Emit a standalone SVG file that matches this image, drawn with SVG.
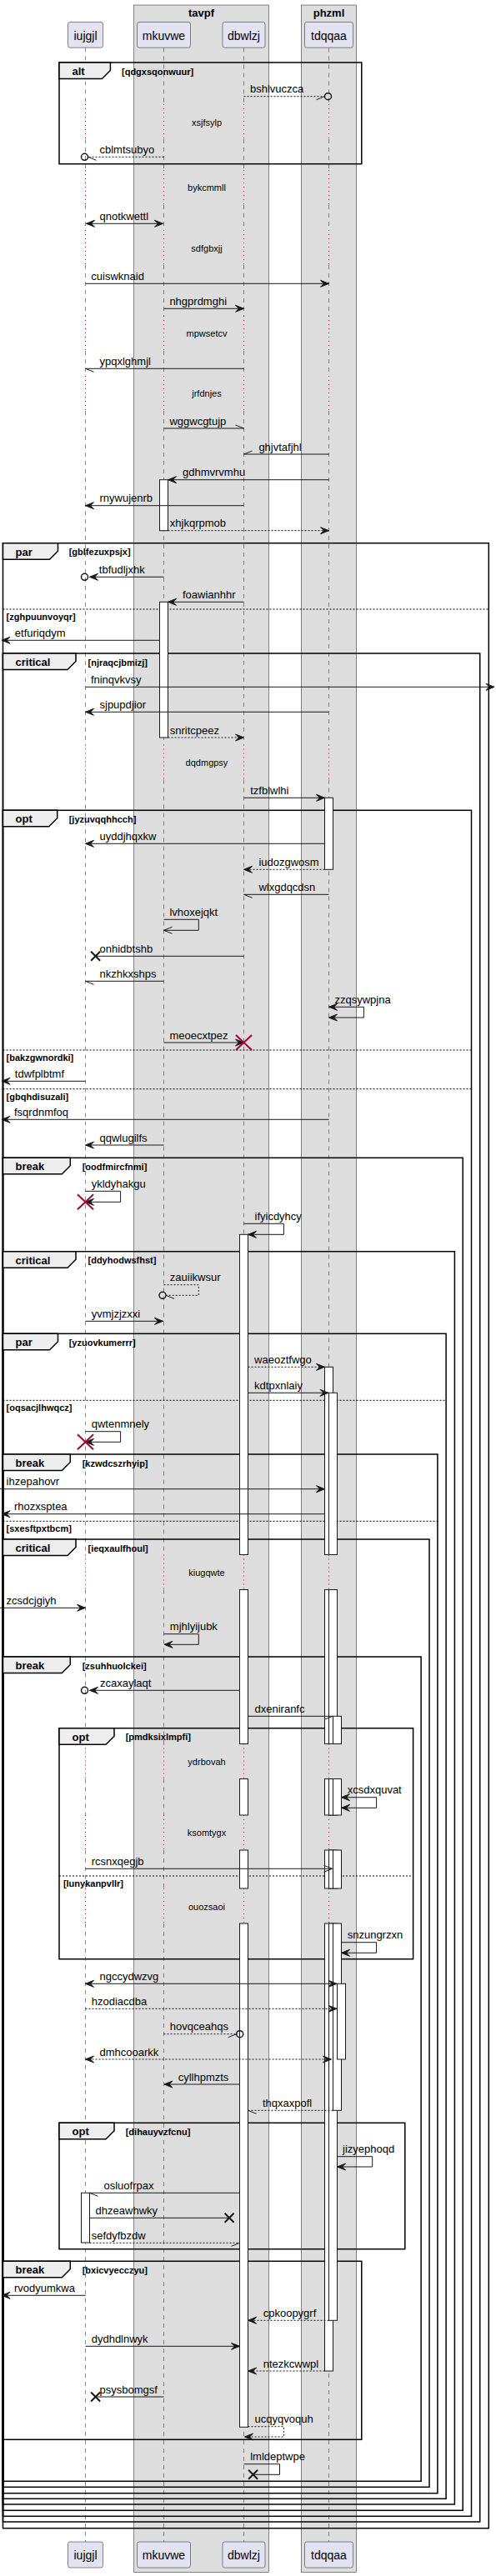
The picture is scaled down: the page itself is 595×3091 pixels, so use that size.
<svg xmlns="http://www.w3.org/2000/svg" width="595" height="3091" viewBox="0 0 595 3091">
<style>
text{font-family:"Liberation Sans",Arial,sans-serif;fill:#000}
.l{font-size:13px}
.k{font-size:13px;font-weight:bold}
.g{font-size:11px;font-weight:bold}
.dt{font-size:11px;text-anchor:middle}
.p{font-size:14px;text-anchor:middle}
.bt{font-size:13px;font-weight:bold;text-anchor:middle}
.grp{fill:#DDDDDD;stroke:#181818;stroke-width:0.5}
.part{fill:#E2E2F0;stroke:#181818;stroke-width:0.5}
.ll{fill:none;stroke:#181818;stroke-width:0.5;stroke-dasharray:5,5}
.dl{fill:none;stroke:#A80036;stroke-width:1;stroke-dasharray:1,4}
.frame{fill:none;stroke:#000;stroke-width:1.5}
.tab{fill:#EEEEEE;stroke:#000;stroke-width:1.5}
.sep{stroke:#000;stroke-width:1;stroke-dasharray:2,2}
.act{fill:#fff;stroke:#181818;stroke-width:1}
.m{fill:none;stroke:#181818;stroke-width:1}
.d{stroke-dasharray:2,2}
.c{fill:none;stroke:#181818;stroke-width:1.5}
.rx{stroke:#A80036;stroke-width:2}
.bx{stroke:#181818;stroke-width:2}
</style>
<defs>
<marker id="f" viewBox="-1 -1 12 10" refX="10" refY="4" markerWidth="12" markerHeight="10" markerUnits="userSpaceOnUse" orient="auto-start-reverse"><path d="M0,0 L10,4 L0,8 L4,4 Z" fill="#181818" stroke="#181818" stroke-width="1"/></marker>
<marker id="hA" viewBox="-1 -1 12 10" refX="10" refY="4" markerWidth="12" markerHeight="10" markerUnits="userSpaceOnUse" orient="auto"><path d="M0,0 L10,4" fill="none" stroke="#181818" stroke-width="1"/></marker>
<marker id="hB" viewBox="-1 -1 12 10" refX="10" refY="4" markerWidth="12" markerHeight="10" markerUnits="userSpaceOnUse" orient="auto"><path d="M0,8 L10,4" fill="none" stroke="#181818" stroke-width="1"/></marker>
<marker id="o" viewBox="-1 -1 12 10" refX="10" refY="4" markerWidth="12" markerHeight="10" markerUnits="userSpaceOnUse" orient="auto"><path d="M0,0 L10,4 L0,8" fill="none" stroke="#181818" stroke-width="1"/></marker>
</defs>
<rect x="0" y="0" width="595" height="3091" fill="#fff"/>

<g id="boxes">
<rect class="grp" x="160.5" y="6" width="162" height="3080.7"/>
<text class="bt" x="241.5" y="19.5">tavpf</text>
<rect class="grp" x="361.3" y="6" width="66.4" height="3080.7"/>
<text class="bt" x="394.5" y="19.5">phzml</text>
</g>

<g id="lifelines">
<path class="ll" d="M102.5,57.5V125M102.5,167V204M102.5,246V276M102.5,318V379M102.5,421V451M102.5,493V893.5M102.5,935.5V1865.5M102.5,1907.5V2092.5M102.5,2134.5V2178M102.5,2220V2266M102.5,2308V3050"/>
<path class="ll" d="M196.5,57.5V125M196.5,167V204M196.5,246V276M196.5,318V379M196.5,421V451M196.5,493V893.5M196.5,935.5V1865.5M196.5,1907.5V2092.5M196.5,2134.5V2178M196.5,2220V2266M196.5,2308V3050"/>
<path class="ll" d="M292.5,57.5V125M292.5,167V204M292.5,246V276M292.5,318V379M292.5,421V451M292.5,493V893.5M292.5,935.5V1865.5M292.5,1907.5V2092.5M292.5,2134.5V2178M292.5,2220V2266M292.5,2308V3050"/>
<path class="ll" d="M394.5,57.5V125M394.5,167V204M394.5,246V276M394.5,318V379M394.5,421V451M394.5,493V893.5M394.5,935.5V1865.5M394.5,1907.5V2092.5M394.5,2134.5V2178M394.5,2220V2266M394.5,2308V3050"/>
<path class="dl" d="M102.5,125V167M102.5,204V246M102.5,276V318M102.5,379V421M102.5,451V493M102.5,893.5V935.5M102.5,1865.5V1907.5M102.5,2092.5V2134.5M102.5,2178V2220M102.5,2266V2308"/>
<path class="dl" d="M196.5,125V167M196.5,204V246M196.5,276V318M196.5,379V421M196.5,451V493M196.5,893.5V935.5M196.5,1865.5V1907.5M196.5,2092.5V2134.5M196.5,2178V2220M196.5,2266V2308"/>
<path class="dl" d="M292.5,125V167M292.5,204V246M292.5,276V318M292.5,379V421M292.5,451V493M292.5,893.5V935.5M292.5,1865.5V1907.5M292.5,2092.5V2134.5M292.5,2178V2220M292.5,2266V2308"/>
<path class="dl" d="M394.5,125V167M394.5,204V246M394.5,276V318M394.5,379V421M394.5,451V493M394.5,893.5V935.5M394.5,1865.5V1907.5M394.5,2092.5V2134.5M394.5,2178V2220M394.5,2266V2308"/>
<text class="dt" x="248" y="150.5">xsjfsylp</text>
<text class="dt" x="248" y="229">bykcmmll</text>
<text class="dt" x="248" y="301.5">sdfgbxjj</text>
<text class="dt" x="248" y="404">mpwsetcv</text>
<text class="dt" x="248" y="476">jrfdnjes</text>
<text class="dt" x="248" y="919">dqdmgpsy</text>
<text class="dt" x="248" y="1891">kiugqwte</text>
<text class="dt" x="248" y="2118">ydrbovah</text>
<text class="dt" x="248" y="2203">ksomtygx</text>
<text class="dt" x="248" y="2291.5">ouozsaoi</text>
</g>

<g id="participants">
<g id="p-iujgjl"><rect class="part" x="81.5" y="26.5" width="42" height="30.7" rx="2.5"/><text class="p" x="102.5" y="47.5">iujgjl</text>
<rect class="part" x="81.5" y="3050" width="42" height="31" rx="2.5"/><text class="p" x="102.5" y="3070.5">iujgjl</text></g>
<g id="p-mkuvwe"><rect class="part" x="164.5" y="26.5" width="64" height="30.7" rx="2.5"/><text class="p" x="196.5" y="47.5">mkuvwe</text>
<rect class="part" x="164.5" y="3050" width="64" height="31" rx="2.5"/><text class="p" x="196.5" y="3070.5">mkuvwe</text></g>
<g id="p-dbwlzj"><rect class="part" x="267" y="26.5" width="51" height="30.7" rx="2.5"/><text class="p" x="292.5" y="47.5">dbwlzj</text>
<rect class="part" x="267" y="3050" width="51" height="31" rx="2.5"/><text class="p" x="292.5" y="3070.5">dbwlzj</text></g>
<g id="p-tdqqaa"><rect class="part" x="365.5" y="26.5" width="58" height="30.7" rx="2.5"/><text class="p" x="394.5" y="47.5">tdqqaa</text>
<rect class="part" x="365.5" y="3050" width="58" height="31" rx="2.5"/><text class="p" x="394.5" y="3070.5">tdqqaa</text></g>
</g>

<g id="frames">
<rect class="frame" x="71" y="75" width="362.8" height="121.7"/>
<path class="tab" d="M71,75H132.4V84.5L122.4,94.5H71Z"/>
<text class="k" x="86.5" y="90">alt</text><text class="g" x="146" y="89.5">[qdgxsqonwuur]</text>

<rect class="frame" x="3.5" y="651.7" width="582.8" height="2382"/>
<path class="tab" d="M3.5,651.7H69.5V661.2L59.5,671.2H3.5Z"/>
<text class="k" x="18.5" y="666.7">par</text><text class="g" x="82.7" y="666.2">[gblfezuxpsjx]</text>
<line class="sep" x1="3.5" y1="731" x2="586.3" y2="731"/><text class="g" x="7.6" y="744">[zghpuunvoyqr]</text>

<rect class="frame" x="3.5" y="784" width="572.2" height="2242"/>
<path class="tab" d="M3.5,784H91V793.5L81,803.5H3.5Z"/>
<text class="k" x="18.5" y="799">critical</text><text class="g" x="105.5" y="798.5">[njraqcjbmizj]</text>

<rect class="frame" x="3.5" y="972.3" width="562" height="2047"/>
<path class="tab" d="M3.5,972.3H68.7V981.8L58.7,991.8H3.5Z"/>
<text class="k" x="18.5" y="987.3">opt</text><text class="g" x="82.7" y="986.8">[jyzuvqqhhcch]</text>
<line class="sep" x1="3.5" y1="1260" x2="565.5" y2="1260"/><text class="g" x="7.6" y="1273">[bakzgwnordki]</text>
<line class="sep" x1="3.5" y1="1306.7" x2="565.5" y2="1306.7"/><text class="g" x="7.6" y="1319.7">[gbqhdisuzali]</text>

<rect class="frame" x="3.5" y="1389.3" width="551.7" height="1623"/>
<path class="tab" d="M3.5,1389.3H84.3V1398.8L74.3,1408.8H3.5Z"/>
<text class="k" x="18.5" y="1404.3">break</text><text class="g" x="98.7" y="1403.8">[oodfmircfnmi]</text>

<rect class="frame" x="3.5" y="1501.7" width="541.9" height="1503.3"/>
<path class="tab" d="M3.5,1501.7H91V1511.2L81,1521.2H3.5Z"/>
<text class="k" x="18.5" y="1516.7">critical</text><text class="g" x="105.5" y="1516.2">[ddyhodwsfhst]</text>

<rect class="frame" x="3.5" y="1600.3" width="531.6" height="1398"/>
<path class="tab" d="M3.5,1600.3H69.5V1609.8L59.5,1619.8H3.5Z"/>
<text class="k" x="18.5" y="1615.3">par</text><text class="g" x="82.7" y="1614.8">[yzuovkumerrr]</text>
<line class="sep" x1="3.5" y1="1680.3" x2="535.1" y2="1680.3"/><text class="g" x="7.6" y="1693.3">[oqsacjlhwqcz]</text>

<rect class="frame" x="3.5" y="1745" width="521.4" height="1246.7"/>
<path class="tab" d="M3.5,1745H84.3V1754.5L74.3,1764.5H3.5Z"/>
<text class="k" x="18.5" y="1760">break</text><text class="g" x="98.7" y="1759.5">[kzwdcszrhyip]</text>
<line class="sep" x1="3.5" y1="1825.3" x2="524.9" y2="1825.3"/><text class="g" x="7.6" y="1838.3">[sxesftpxtbcm]</text>

<rect class="frame" x="3.5" y="1847" width="511.5" height="1137.3"/>
<path class="tab" d="M3.5,1847H91V1856.5L81,1866.5H3.5Z"/>
<text class="k" x="18.5" y="1862">critical</text><text class="g" x="105.5" y="1861.5">[ieqxaulfhoul]</text>

<rect class="frame" x="3.5" y="1988" width="501.6" height="989.3"/>
<path class="tab" d="M3.5,1988H84.3V1997.5L74.3,2007.5H3.5Z"/>
<text class="k" x="18.5" y="2003">break</text><text class="g" x="98.7" y="2002.5">[zsuhhuolckei]</text>

<rect class="frame" x="71" y="2073.7" width="424.6" height="277"/>
<path class="tab" d="M71,2073.7H137V2083.2L127,2093.2H71Z"/>
<text class="k" x="86.5" y="2088.7">opt</text><text class="g" x="150.7" y="2088.2">[pmdksixlmpfi]</text>
<line class="sep" x1="71" y1="2251" x2="495.6" y2="2251"/><text class="g" x="75.9" y="2264">[lunykanpvllr]</text>

<rect class="frame" x="71" y="2547.3" width="414.8" height="151.4"/>
<path class="tab" d="M71,2547.3H137V2556.8L127,2566.8H71Z"/>
<text class="k" x="86.5" y="2562.3">opt</text><text class="g" x="150.7" y="2561.8">[dihauyvzfcnu]</text>

<rect class="frame" x="3.5" y="2713.3" width="430.3" height="214"/>
<path class="tab" d="M3.5,2713.3H84.3V2722.8L74.3,2732.8H3.5Z"/>
<text class="k" x="18.5" y="2728.3">break</text><text class="g" x="98.7" y="2727.8">[bxicvyecczyu]</text>
</g>

<g id="activations">
<rect class="act" x="191.5" y="575.7" width="10" height="61"/>
<rect class="act" x="191.5" y="722.3" width="10" height="162.7"/>
<rect class="act" x="389.5" y="957.3" width="10" height="86"/>
<rect class="act" x="287.5" y="1481.3" width="10" height="384.2"/>
<rect class="act" x="287.5" y="1907.5" width="10" height="185"/>
<rect class="act" x="287.5" y="2134.5" width="10" height="43.5"/>
<rect class="act" x="287.5" y="2220" width="10" height="46"/>
<rect class="act" x="287.5" y="2308" width="10" height="604.3"/>
<rect class="act" x="389.5" y="1640.3" width="10" height="225.2"/>
<rect class="act" x="389.5" y="1907.5" width="10" height="185"/>
<rect class="act" x="389.5" y="2134.5" width="10" height="43.5"/>
<rect class="act" x="389.5" y="2220" width="10" height="46"/>
<rect class="act" x="389.5" y="2308" width="10" height="537"/>
<rect class="act" x="394.5" y="1671.3" width="10" height="194.2"/>
<rect class="act" x="394.5" y="1907.5" width="10" height="185"/>
<rect class="act" x="394.5" y="2134.5" width="10" height="43.5"/>
<rect class="act" x="394.5" y="2220" width="10" height="46"/>
<rect class="act" x="394.5" y="2308" width="10" height="476.3"/>
<rect class="act" x="399.5" y="2059.3" width="10" height="33.2"/>
<rect class="act" x="399.5" y="2134.5" width="10" height="43.5"/>
<rect class="act" x="399.5" y="2220" width="10" height="46"/>
<rect class="act" x="399.5" y="2308" width="10" height="224.3"/>
<rect class="act" x="404.5" y="2380.3" width="10" height="90.7"/>
<rect class="act" x="97.5" y="2631.3" width="10" height="59.7"/>
</g>

<g id="connectors">
<line class="m d" x1="292.5" y1="115.7" x2="389.5" y2="115.7" marker-end="url(#hB)"/><circle class="c" cx="393.5" cy="115.7" r="4"/>
<line class="m d" x1="196.5" y1="188.3" x2="105.5" y2="188.3" marker-end="url(#hA)"/><circle class="c" cx="101.5" cy="188.3" r="4"/>
<line class="m" x1="103.5" y1="268.3" x2="195.5" y2="268.3" marker-start="url(#f)" marker-end="url(#f)"/>
<line class="m" x1="102.5" y1="340.3" x2="394.5" y2="340.3" marker-end="url(#f)"/>
<line class="m" x1="196.5" y1="370.3" x2="292.5" y2="370.3" marker-end="url(#f)"/>
<line class="m" x1="292.5" y1="442.3" x2="102.5" y2="442.3" marker-end="url(#hA)"/>
<line class="m" x1="196.5" y1="514" x2="292.5" y2="514" marker-end="url(#hA)"/>
<line class="m" x1="394.5" y1="545" x2="292.5" y2="545" marker-end="url(#hB)"/>
<line class="m" x1="394.5" y1="575.7" x2="201.5" y2="575.7" marker-end="url(#f)"/>
<line class="m" x1="292.5" y1="606.7" x2="102.5" y2="606.7" marker-end="url(#f)"/>
<line class="m d" x1="201.5" y1="636.7" x2="394.5" y2="636.7" marker-end="url(#f)"/>
<line class="m" x1="196.5" y1="692.3" x2="107.5" y2="692.3" marker-end="url(#f)"/><circle class="c" cx="101.5" cy="692.3" r="4"/>
<line class="m" x1="292.5" y1="722.3" x2="201.5" y2="722.3" marker-end="url(#f)"/>
<line class="m" x1="191.5" y1="768.3" x2="2" y2="768.3" marker-end="url(#f)"/>
<line class="m" x1="102.5" y1="824.3" x2="593" y2="824.3" marker-end="url(#f)"/>
<line class="m" x1="394.5" y1="854.3" x2="102.5" y2="854.3" marker-end="url(#f)"/>
<line class="m d" x1="201.5" y1="885" x2="292.5" y2="885" marker-end="url(#f)"/>
<line class="m" x1="292.5" y1="957.3" x2="389.5" y2="957.3" marker-end="url(#f)"/>
<line class="m" x1="389.5" y1="1012.3" x2="102.5" y2="1012.3" marker-end="url(#f)"/>
<line class="m d" x1="389.5" y1="1043.3" x2="292.5" y2="1043.3" marker-end="url(#f)"/>
<line class="m" x1="394.5" y1="1073.3" x2="292.5" y2="1073.3" marker-end="url(#hA)"/>
<path class="m" d="M196.5,1103.3H238.3V1116.3H196.5" marker-end="url(#o)"/>
<line class="m" x1="292.5" y1="1147.3" x2="114.6" y2="1147.3"/><path class="bx" d="M109.1,1141.8L120.1,1152.8M109.1,1152.8L120.1,1141.8"/>
<line class="m" x1="196.5" y1="1177.3" x2="102.5" y2="1177.3" marker-end="url(#hA)"/>
<path class="m" d="M394.5,1208.3H436.4V1221H394.5" marker-start="url(#f)" marker-end="url(#f)"/>
<line class="m" x1="196.5" y1="1251" x2="292.5" y2="1251" marker-end="url(#f)"/><path class="rx" d="M283,1242L302,1260M283,1260L302,1242"/>
<line class="m" x1="102.5" y1="1297.3" x2="2" y2="1297.3" marker-end="url(#f)"/>
<line class="m" x1="394.5" y1="1343.3" x2="2" y2="1343.3" marker-end="url(#f)"/>
<line class="m" x1="196.5" y1="1374" x2="102.5" y2="1374" marker-end="url(#f)"/>
<path class="m" d="M102.5,1429.3H144.6V1442.3H102.5" marker-end="url(#f)"/><path class="rx" d="M93,1433.3L112,1451.3M93,1451.3L112,1433.3"/>
<path class="m" d="M292.5,1468.3H340.4V1481.3H297.5" marker-end="url(#f)"/>
<path class="m d" d="M196.5,1541.7H238.3V1554.3H199" marker-end="url(#hA)"/><circle class="c" cx="195" cy="1554.3" r="4"/>
<line class="m" x1="102.5" y1="1585.3" x2="195.5" y2="1585.3" marker-end="url(#f)"/>
<line class="m d" x1="297.5" y1="1640.3" x2="389.5" y2="1640.3" marker-end="url(#f)"/>
<line class="m" x1="297.5" y1="1671.3" x2="394" y2="1671.3" marker-end="url(#f)"/>
<path class="m" d="M102.5,1717.7H144.6V1730.3H102.5" marker-end="url(#f)"/><path class="rx" d="M93,1721.3L112,1739.3M93,1739.3L112,1721.3"/>
<line class="m" x1="0" y1="1786.7" x2="389.5" y2="1786.7" marker-end="url(#f)"/>
<line class="m" x1="389.5" y1="1816.7" x2="2" y2="1816.7" marker-end="url(#f)"/>
<line class="m" x1="0" y1="1929.3" x2="102.5" y2="1929.3" marker-end="url(#f)"/>
<path class="m" d="M196.5,1960.7H238.3V1973.3H197" marker-end="url(#f)"/>
<line class="m" x1="287.5" y1="2028.3" x2="107.5" y2="2028.3" marker-end="url(#f)"/><circle class="c" cx="101.5" cy="2028.3" r="4"/>
<line class="m" x1="297.5" y1="2059.3" x2="399" y2="2059.3" marker-end="url(#hB)"/>
<path class="m" d="M409.5,2156.7H451.6V2169.3H409.5" marker-start="url(#f)" marker-end="url(#f)"/>
<line class="m" x1="102.5" y1="2242.3" x2="398.5" y2="2242.3" marker-end="url(#o)"/>
<path class="m" d="M409.5,2330.7H451.6V2343.3H409.5" marker-end="url(#f)"/>
<line class="m" x1="102.5" y1="2380.3" x2="404" y2="2380.3" marker-start="url(#f)" marker-end="url(#f)"/>
<line class="m d" x1="102.5" y1="2410.3" x2="404" y2="2410.3" marker-end="url(#f)"/>
<line class="m d" x1="196.5" y1="2440.7" x2="283.7" y2="2440.7" marker-end="url(#hB)"/><circle class="c" cx="287.7" cy="2440.7" r="4"/>
<line class="m d" x1="102.5" y1="2471" x2="397.5" y2="2471" marker-start="url(#f)" marker-end="url(#f)"/>
<line class="m" x1="287.5" y1="2501" x2="197" y2="2501" marker-end="url(#f)"/>
<line class="m d" x1="399.5" y1="2532.3" x2="297.5" y2="2532.3" marker-end="url(#hA)"/>
<path class="m" d="M404.5,2587.7H446.7V2600H404.5" marker-end="url(#f)"/>
<line class="m" x1="287.5" y1="2631.3" x2="107.5" y2="2631.3" marker-end="url(#hA)"/>
<line class="m" x1="107.5" y1="2661.3" x2="275.1" y2="2661.3"/><path class="bx" d="M269.6,2655.8L280.6,2666.8M269.6,2666.8L280.6,2655.8"/>
<line class="m d" x1="107.5" y1="2691.3" x2="287.5" y2="2691.3" marker-end="url(#hB)"/>
<line class="m" x1="102.5" y1="2754.3" x2="2" y2="2754.3" marker-end="url(#f)"/>
<line class="m d" x1="394.5" y1="2784.3" x2="297.5" y2="2784.3" marker-end="url(#f)"/>
<line class="m" x1="102.5" y1="2815.3" x2="287.5" y2="2815.3" marker-end="url(#f)"/>
<line class="m d" x1="389.5" y1="2845" x2="297.5" y2="2845" marker-end="url(#f)"/>
<line class="m" x1="196.5" y1="2876" x2="114.6" y2="2876"/><path class="bx" d="M109.1,2870.5L120.1,2881.5M109.1,2881.5L120.1,2870.5"/>
<path class="m d" d="M297.5,2911.7H340.4V2924H293.5" marker-end="url(#f)"/>
<path class="m" d="M292.5,2956.7H335.5V2969.3H303.6"/><path class="bx" d="M298.1,2963.8L309.1,2974.8M298.1,2974.8L309.1,2963.8"/>
</g>

<g id="labels">
<text class="l" x="300" y="111.2">bshlvuczca</text>
<text class="l" x="119.5" y="183.8">cblmtsubyo</text>
<text class="l" x="119.5" y="263.8">qnotkwettl</text>
<text class="l" x="109.3" y="335.8">cuiswknaid</text>
<text class="l" x="203.4" y="365.8">nhgprdmghi</text>
<text class="l" x="119.5" y="437.8">ypqxlghmjl</text>
<text class="l" x="203.4" y="509.5">wggwcgtujp</text>
<text class="l" x="310.4" y="540.5">ghjvtafjhl</text>
<text class="l" x="219" y="571.2">gdhmvrvmhu</text>
<text class="l" x="119.5" y="602.2">rnywujenrb</text>
<text class="l" x="203.8" y="632.2">xhjkqrpmob</text>
<text class="l" x="118.8" y="687.8">tbfudljxhk</text>
<text class="l" x="219" y="717.8">foawianhhr</text>
<text class="l" x="17.8" y="763.8">etfuriqdym</text>
<text class="l" x="108.9" y="819.8">fninqvkvsy</text>
<text class="l" x="119.5" y="849.8">sjpupdjior</text>
<text class="l" x="203.8" y="880.5">snritcpeez</text>
<text class="l" x="300.2" y="952.8">tzfblwlhi</text>
<text class="l" x="119.5" y="1007.8">uyddjhqxkw</text>
<text class="l" x="310.4" y="1038.8">iudozgwosm</text>
<text class="l" x="310.4" y="1068.8">wlxgdqcdsn</text>
<text class="l" x="203.4" y="1098.8">lvhoxejqkt</text>
<text class="l" x="119.5" y="1142.8">onhidbtshb</text>
<text class="l" x="119.5" y="1172.8">nkzhkxshps</text>
<text class="l" x="401.5" y="1203.8">zzqsywpjna</text>
<text class="l" x="203.4" y="1246.5">meoecxtpez</text>
<text class="l" x="17.8" y="1292.8">tdwfplbtmf</text>
<text class="l" x="17" y="1338.8">fsqrdnmfoq</text>
<text class="l" x="119.5" y="1369.5">qqwlugilfs</text>
<text class="l" x="109.7" y="1424.8">ykldyhakgu</text>
<text class="l" x="305.5" y="1463.8">ifyicdyhcy</text>
<text class="l" x="203.8" y="1537.2">zauiikwsur</text>
<text class="l" x="109.7" y="1580.8">yvmjzjzxxi</text>
<text class="l" x="305.1" y="1635.8">waeoztfwgo</text>
<text class="l" x="305.1" y="1666.8">kdtpxnlaiy</text>
<text class="l" x="109.7" y="1713.2">qwtenmnely</text>
<text class="l" x="7.6" y="1782.2">ihzepahovr</text>
<text class="l" x="17" y="1812.2">rhozxsptea</text>
<text class="l" x="7.6" y="1924.8">zcsdcjgiyh</text>
<text class="l" x="203.8" y="1956.2">mjhlyijubk</text>
<text class="l" x="120" y="2023.8">zcaxaylaqt</text>
<text class="l" x="305.5" y="2054.8">dxeniranfc</text>
<text class="l" x="416.7" y="2152.2">xcsdxquvat</text>
<text class="l" x="109.7" y="2237.8">rcsnxqegjb</text>
<text class="l" x="416.7" y="2326.2">snzungrzxn</text>
<text class="l" x="119.5" y="2375.8">ngccydwzvg</text>
<text class="l" x="109.7" y="2405.8">hzodiacdba</text>
<text class="l" x="203.8" y="2436.2">hovqceahqs</text>
<text class="l" x="119.5" y="2466.5">dmhcooarkk</text>
<text class="l" x="213.7" y="2496.5">cyllhpmzts</text>
<text class="l" x="315" y="2527.8">thqxaxpofl</text>
<text class="l" x="411" y="2583.2">jizyephoqd</text>
<text class="l" x="124.5" y="2626.8">osluofrpax</text>
<text class="l" x="114.6" y="2656.8">dhzeawhwky</text>
<text class="l" x="109.7" y="2686.8">sefdyfbzdw</text>
<text class="l" x="17" y="2749.8">rvodyumkwa</text>
<text class="l" x="315.7" y="2779.8">cpkoopygrf</text>
<text class="l" x="109.7" y="2810.8">dydhdlnwyk</text>
<text class="l" x="315.7" y="2840.5">ntezkcwwpl</text>
<text class="l" x="119.5" y="2871.5">psysbomgsf</text>
<text class="l" x="305.5" y="2907.2">ucqyqvoquh</text>
<text class="l" x="300.2" y="2952.2">lmldeptwpe</text>
</g>
</svg>
